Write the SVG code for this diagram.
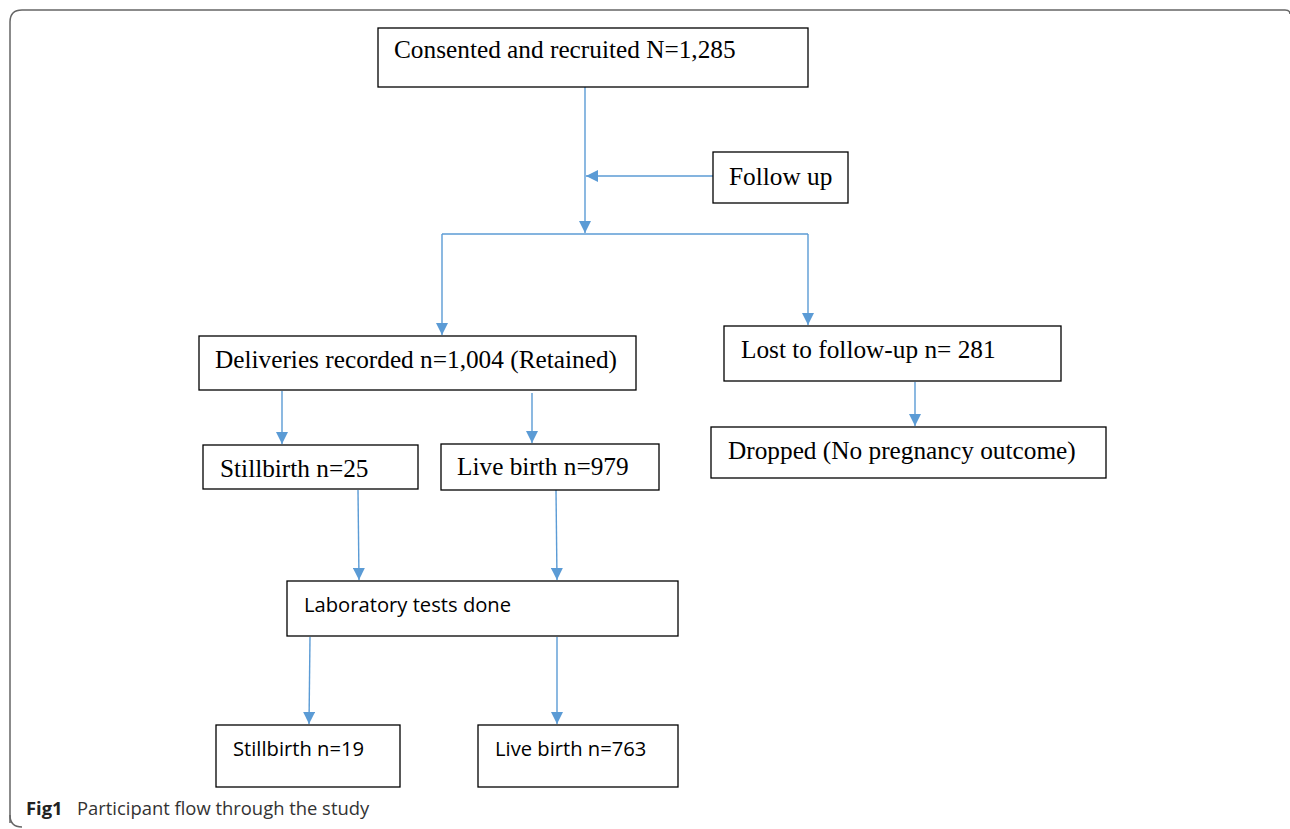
<svg xmlns="http://www.w3.org/2000/svg" width="1290" height="829" viewBox="0 0 1290 829">
<style>
.box{fill:#fff;stroke:#000;stroke-width:1.3}
.serif{font-family:"Liberation Serif","Times New Roman",serif;font-size:25.3px;fill:#000}
.sans{font-family:"Open Sans","Noto Sans",sans-serif;font-size:20.2px;fill:#000}
.con{fill:none;stroke:#5b9bd5;stroke-width:1.4}
.cap{font-family:"Open Sans","Noto Sans",sans-serif;font-size:18.4px;fill:#333}
</style>
<defs>
<marker id="ah" markerWidth="12" markerHeight="12" refX="10" refY="5" orient="auto" markerUnits="userSpaceOnUse" viewBox="0 0 10 10">
<path d="M0,0 L10,5 L0,10 z" fill="#5b9bd5"/>
</marker>
</defs>
<path d="M10,823 L10,22 Q10,10 22,10 L1285,10 Q1290,10 1290,14" fill="none" stroke="#666" stroke-width="1.5"/>
<path d="M10,815 Q10,827 22,827" fill="none" stroke="#666" stroke-width="1.5"/>
<g id="connectors">
<line class="con" x1="585" y1="87" x2="585" y2="233" marker-end="url(#ah)"/>
<line class="con" x1="713" y1="176" x2="586" y2="176" marker-end="url(#ah)"/>
<polyline class="con" points="442,234 808,234"/>
<line class="con" x1="442" y1="234" x2="442" y2="335" marker-end="url(#ah)"/>
<line class="con" x1="808" y1="234" x2="808" y2="325" marker-end="url(#ah)"/>
<line class="con" x1="915" y1="382" x2="915" y2="426" marker-end="url(#ah)"/>
<line class="con" x1="282" y1="391" x2="282" y2="444" marker-end="url(#ah)"/>
<line class="con" x1="532" y1="393" x2="532" y2="443" marker-end="url(#ah)"/>
<line class="con" x1="358" y1="490" x2="359" y2="580" marker-end="url(#ah)"/>
<line class="con" x1="556" y1="490" x2="557" y2="580" marker-end="url(#ah)"/>
<line class="con" x1="310" y1="637" x2="309" y2="724" marker-end="url(#ah)"/>
<line class="con" x1="557" y1="637" x2="557" y2="724" marker-end="url(#ah)"/>
</g>
<g id="consented"><rect class="box" x="378" y="28" width="430" height="59"/><text class="serif" x="394" y="58">Consented and recruited N=1,285</text></g>
<g id="followup"><rect class="box" x="713" y="152" width="135" height="51"/><text class="serif" x="729" y="185">Follow up</text></g>
<g id="deliveries"><rect class="box" x="199" y="336" width="437" height="54"/><text class="serif" x="215" y="368">Deliveries recorded n=1,004 (Retained)</text></g>
<g id="lost"><rect class="box" x="724" y="326" width="337" height="55"/><text class="serif" x="741" y="358">Lost to follow-up n= 281</text></g>
<g id="dropped"><rect class="box" x="711" y="427" width="395" height="51"/><text class="serif" x="728" y="459">Dropped (No pregnancy outcome)</text></g>
<g id="still25"><rect class="box" x="203" y="445" width="215" height="44"/><text class="serif" x="220" y="477">Stillbirth n=25</text></g>
<g id="live979"><rect class="box" x="441" y="444" width="218" height="46"/><text class="serif" x="457" y="475">Live birth n=979</text></g>
<g id="lab"><rect class="box" x="287" y="581" width="391" height="55"/><text class="sans" x="304" y="612">Laboratory tests done</text></g>
<g id="still19"><rect class="box" x="216" y="725" width="184" height="62"/><text class="sans" x="233" y="756">Stillbirth n=19</text></g>
<g id="live763"><rect class="box" x="478" y="725" width="200" height="62"/><text class="sans" x="495" y="756">Live birth n=763</text></g>
<text class="cap" x="26" y="815"><tspan font-weight="bold" fill="#222">Fig1</tspan><tspan x="77">Participant flow through the study</tspan></text>
</svg>
